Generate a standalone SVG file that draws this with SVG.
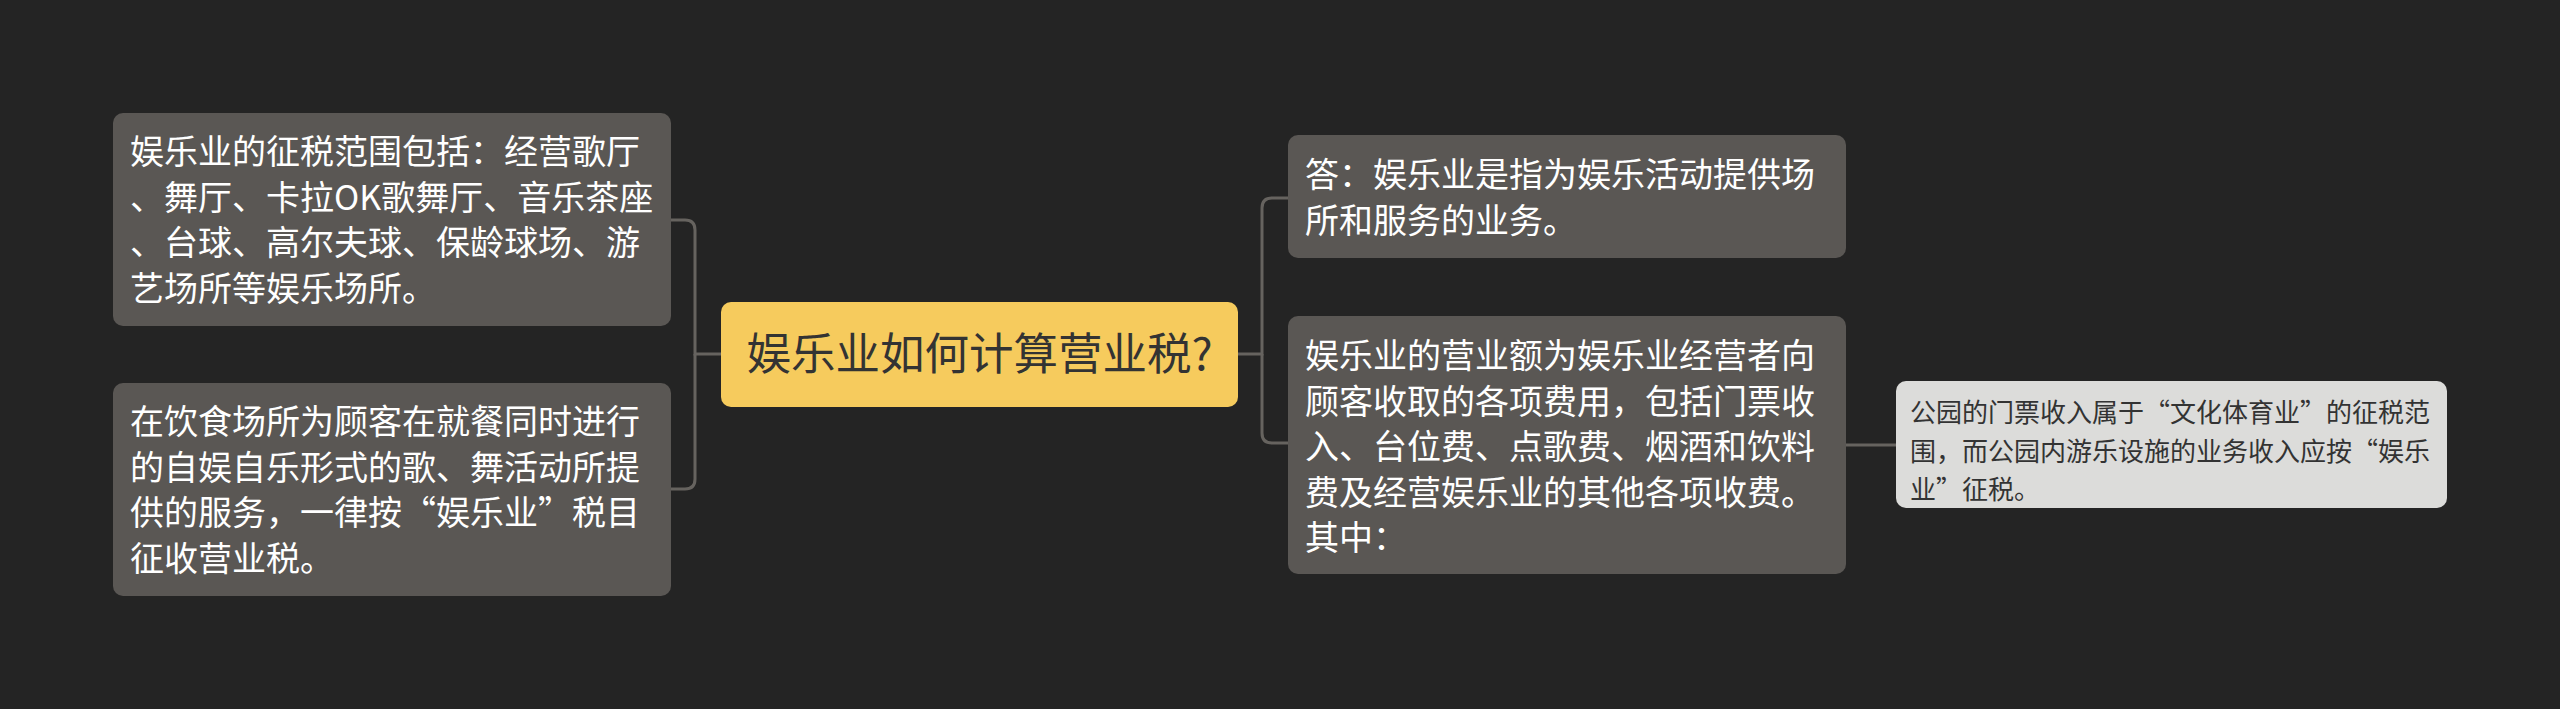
<svg xmlns="http://www.w3.org/2000/svg" width="2560" height="709" viewBox="0 0 2560 709">
<style>
.bg{fill:#242424}
.node rect{fill:#5A5754}
.t{font-family:"Noto Sans CJK SC","Noto Sans",sans-serif;font-size:34px;fill:#FFFFFF}
.root rect{fill:#F6CB5D}
.root text{font-family:"Noto Sans CJK SC","Noto Sans",sans-serif;font-size:44.5px;fill:#333333}
.leaf rect{fill:#DCDCDA}
.leaf text{font-family:"Noto Sans CJK SC","Noto Sans",sans-serif;font-size:26px;fill:#333333}
.conn path{fill:none;stroke:#66635F;stroke-width:3}
</style>
<rect class="bg" x="0" y="0" width="2560" height="709"/>
<g id="connectors" class="conn">
<path d="M721 354 H695 V230 Q695 220 685 220 H671"/>
<path d="M695 354 V479 Q695 489 685 489 H671"/>
<path d="M1238 354 H1262 V208 Q1262 198 1272 198 H1288"/>
<path d="M1262 354 V433 Q1262 443 1272 443 H1288"/>
<path d="M1846 445 H1896"/>
</g>
<g id="root" class="root">
<rect x="721" y="302" width="517" height="105" rx="10"/>
<text x="979.5" y="370" text-anchor="middle">娱乐业如何计算营业税?</text>
</g>
<g id="left-top" class="node">
<rect x="113" y="113" width="558" height="213" rx="10"/>
<text class="t"><tspan x="130" y="164">娱乐业的征税范围包括：经营歌厅</tspan><tspan x="130" y="210">、舞厅、卡拉OK歌舞厅、音乐茶座</tspan><tspan x="130" y="255">、台球、高尔夫球、保龄球场、游</tspan><tspan x="130" y="301">艺场所等娱乐场所。</tspan></text>
</g>
<g id="left-bottom" class="node">
<rect x="113" y="383" width="558" height="213" rx="10"/>
<text class="t"><tspan x="130" y="434">在饮食场所为顾客在就餐同时进行</tspan><tspan x="130" y="480">的自娱自乐形式的歌、舞活动所提</tspan><tspan x="130" y="525">供的服务，一律按“娱乐业”税目</tspan><tspan x="130" y="571">征收营业税。</tspan></text>
</g>
<g id="right-top" class="node">
<rect x="1288" y="135" width="558" height="123" rx="10"/>
<text class="t"><tspan x="1305" y="187">答：娱乐业是指为娱乐活动提供场</tspan><tspan x="1305" y="233">所和服务的业务。</tspan></text>
</g>
<g id="right-mid" class="node">
<rect x="1288" y="316" width="558" height="258" rx="10"/>
<text class="t"><tspan x="1305" y="368">娱乐业的营业额为娱乐业经营者向</tspan><tspan x="1305" y="414">顾客收取的各项费用，包括门票收</tspan><tspan x="1305" y="459">入、台位费、点歌费、烟酒和饮料</tspan><tspan x="1305" y="505">费及经营娱乐业的其他各项收费。</tspan><tspan x="1305" y="550">其中：</tspan></text>
</g>
<g id="far-right" class="leaf">
<rect x="1896" y="381" width="551" height="127" rx="10"/>
<text><tspan x="1910" y="422">公园的门票收入属于“文化体育业”的征税范</tspan><tspan x="1910" y="461">围，而公园内游乐设施的业务收入应按“娱乐</tspan><tspan x="1910" y="499">业”征税。</tspan></text>
</g>
</svg>
